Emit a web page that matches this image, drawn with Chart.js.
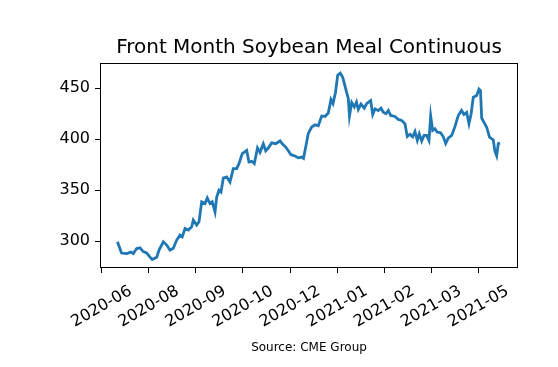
<!DOCTYPE html>
<html>
<head>
<meta charset="utf-8">
<script src="https://cdn.jsdelivr.net/npm/chart.js@4/dist/chart.umd.min.js"></script>
<style>
  html, body { margin: 0; padding: 0; background: #fff; }
  #wrap { width: 558px; height: 367px; }
</style>
</head>
<body>
<div id="wrap"><canvas id="meal-chart" width="558" height="367"></canvas></div>
<script>
// Chart text
const chartTitle = "Front Month Soybean Meal Continuous";
const sourceNote = "Source: CME Group";

// X axis tick labels (evenly spaced, one per tick step)
const xTickLabels = ["2020-06", "2020-08", "2020-09", "2020-10", "2020-12",
                     "2021-01", "2021-02", "2021-03", "2021-05"];
const yTickValues = [300, 350, 400, 450];

// Position of each observation along the date axis (in tick steps)
const sampleX = [
  0.335, 0.420, 0.531, 0.622, 0.671, 0.743, 0.813, 0.883, 0.955, 1.025,
  1.074, 1.168, 1.217, 1.308, 1.380, 1.450, 1.520, 1.592, 1.662, 1.711,
  1.769, 1.839, 1.911, 1.945, 2.017, 2.066, 2.123, 2.193, 2.242, 2.299,
  2.348, 2.406, 2.442, 2.490, 2.533, 2.582, 2.654, 2.724, 2.794, 2.866,
  2.915, 2.985, 3.079, 3.127, 3.185, 3.240, 3.308, 3.361, 3.431, 3.482,
  3.537, 3.609, 3.694, 3.786, 3.834, 3.907, 3.962, 4.019, 4.104, 4.174,
  4.246, 4.285, 4.338, 4.386, 4.459, 4.529, 4.599, 4.671, 4.741, 4.811,
  4.868, 4.911, 4.964, 5.011, 5.066, 5.119, 5.155, 5.202, 5.236, 5.261,
  5.308, 5.363, 5.410, 5.448, 5.505, 5.575, 5.626, 5.711, 5.754, 5.803,
  5.873, 5.930, 5.979, 6.036, 6.085, 6.136, 6.227, 6.297, 6.369, 6.439,
  6.488, 6.546, 6.603, 6.652, 6.701, 6.743, 6.794, 6.843, 6.900, 6.949,
  6.985, 7.028, 7.076, 7.125, 7.197, 7.253, 7.304, 7.359, 7.431, 7.501,
  7.571, 7.639, 7.692, 7.749, 7.798, 7.841, 7.890, 7.962, 8.011, 8.042,
  8.068, 8.123, 8.174, 8.234, 8.314, 8.350, 8.386, 8.420, 8.457
];

// Settlement price ($/short ton)
const price = [
  299.3, 288.3, 287.8, 289.2, 287.8, 292.7, 293.4, 289.7, 288.3, 284.3,
  281.9, 284.1, 291.2, 299.3, 296.1, 291.2, 292.9, 301.0, 305.9, 304.2,
  312.4, 310.8, 314.0, 320.5, 315.7, 318.9, 338.5, 336.9, 342.4, 336.9,
  338.5, 328.7, 343.3, 349.9, 348.2, 361.9, 362.9, 358.0, 371.1, 371.1,
  376.0, 385.8, 389.0, 377.6, 378.3, 376.0, 391.5, 387.1, 395.4, 388.6,
  391.3, 396.4, 395.6, 398.3, 395.6, 392.3, 388.6, 384.8, 383.5, 381.7,
  382.5, 381.2, 393.9, 405.7, 412.0, 414.2, 413.2, 422.8, 422.3, 425.7,
  438.9, 435.0, 445.8, 462.9, 464.9, 460.5, 454.1, 445.8, 439.9, 422.8,
  436.0, 431.6, 436.5, 429.2, 434.5, 430.4, 435.0, 438.0, 424.3, 429.8,
  428.2, 430.4, 426.5, 425.0, 428.2, 423.3, 422.3, 419.4, 418.4, 415.2,
  402.7, 404.7, 402.3, 407.6, 398.8, 405.2, 398.3, 403.7, 403.7, 398.8,
  422.8, 408.6, 410.3, 406.9, 406.4, 402.3, 395.9, 401.1, 403.7, 412.5,
  423.3, 428.2, 424.3, 426.2, 415.2, 424.3, 441.2, 442.9, 449.2, 447.8,
  420.8, 416.0, 411.8, 402.1, 399.3, 388.1, 383.7, 395.6, 396.4
];

const FONT = "'DejaVu Sans', 'Liberation Sans', sans-serif";
const TICK_FONT_SIZE = 16;

// Draws the frame, title, centred rotated date labels and source note
const decorations = {
  id: "decorations",
  afterDatasetsDraw(chart) {
    const { ctx, chartArea: a } = chart;
    ctx.save();
    ctx.strokeStyle = "#000";
    ctx.lineWidth = 1;
    ctx.strokeRect(a.left + 0.5, a.top + 0.5, a.right - a.left - 1, a.bottom - a.top - 1);
    ctx.restore();
  },
  afterDraw(chart) {
    const { ctx, chartArea: a } = chart;
    const xScale = chart.scales.x;
    ctx.save();
    ctx.fillStyle = "#000";

    // title
    ctx.font = `20px ${FONT}`;
    ctx.textAlign = "center";
    ctx.textBaseline = "alphabetic";
    ctx.fillText(chartTitle, (a.left + a.right) / 2, a.top - 10);

    // x tick labels, rotated 30deg, box centred under the tick
    ctx.font = `${TICK_FONT_SIZE}px ${FONT}`;
    ctx.textBaseline = "middle";
    const ang = (30 * Math.PI) / 180;
    const h = TICK_FONT_SIZE * 1.15;
    xTickLabels.forEach((label, i) => {
      const w = ctx.measureText(label).width;
      const boxH = w * Math.sin(ang) + h * Math.cos(ang);
      const cx = xScale.getPixelForValue(i);
      const cy = a.bottom + 14 + boxH / 2;
      ctx.save();
      ctx.translate(cx, cy);
      ctx.rotate(-ang);
      ctx.fillText(label, 0, 0);
      ctx.restore();
    });

    // source note
    ctx.font = `12px ${FONT}`;
    ctx.textBaseline = "alphabetic";
    ctx.fillText(sourceNote, (a.left + a.right) / 2, 351);
    ctx.restore();
  },
};

const points = sampleX.map((x, i) => ({ x: x, y: price[i] }));

new Chart(document.getElementById("meal-chart"), {
  type: "line",
  data: {
    datasets: [{
      label: "Front month",
      data: points,
      borderColor: "#1f77b4",
      borderWidth: 2.8,
      pointRadius: 0,
      tension: 0,
      fill: false,
    }],
  },
  options: {
    responsive: false,
    devicePixelRatio: 1,
    animation: false,
    layout: { padding: { top: 63, right: 40, bottom: 0, left: 0 } },
    plugins: {
      legend: { display: false },
      tooltip: { enabled: false },
      title: { display: false },
    },
    scales: {
      x: {
        type: "linear",
        min: -0.036,
        max: 8.839,
        afterBuildTicks: (scale) => {
          scale.ticks = xTickLabels.map((_, i) => ({ value: i }));
        },
        afterFit: (scale) => { scale.height = 99; },
        border: { display: false },
        grid: {
          drawOnChartArea: false,
          drawTicks: true,
          tickLength: 5,
          tickColor: "#000",
          tickWidth: 1,
        },
        ticks: { color: "rgba(0,0,0,0)", autoSkip: false, maxRotation: 0 },
      },
      y: {
        min: 273.6,
        max: 474.8,
        afterBuildTicks: (scale) => {
          scale.ticks = yTickValues.map((v) => ({ value: v }));
        },
        afterFit: (scale) => { scale.width = 100; },
        border: { display: false },
        grid: {
          drawOnChartArea: false,
          drawTicks: true,
          tickLength: 5,
          tickColor: "#000",
          tickWidth: 1,
        },
        ticks: {
          color: "#000",
          padding: 5,
          font: { family: FONT, size: TICK_FONT_SIZE },
        },
      },
    },
  },
  plugins: [decorations],
});
</script>
</body>
</html>
